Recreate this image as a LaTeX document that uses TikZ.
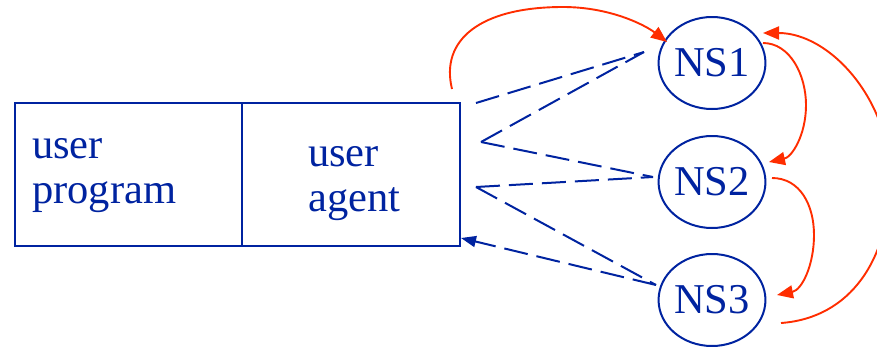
\documentclass[tikz,border=0pt]{standalone}
\usepackage{fontspec}
\setmainfont{Liberation Serif}
\usetikzlibrary{arrows.meta,shapes.geometric}
\definecolor{nsblue}{RGB}{0,35,160}
\definecolor{nsred}{RGB}{255,45,0}
\tikzset{
  boxpart/.style={draw=nsblue,line width=2pt,minimum height=143pt,anchor=north west,inner sep=0pt},
  nsnode/.style={ellipse,draw=nsblue,line width=2pt,minimum width=100pt,minimum height=92pt,inner sep=0pt,text=nsblue,font=\fontsize{42.5}{47}\selectfont},
  lbl/.style={anchor=base west,inner sep=0pt,text=nsblue,font=\fontsize{42.5}{47}\selectfont},
  query/.style={draw=nsblue,line width=2pt,dash pattern=on 24pt off 9pt},
  referral/.style={draw=nsred,line width=1.9pt,-{Triangle[length=16pt,width=13pt]}},
}
\begin{document}
\begin{tikzpicture}[x=1pt,y=-1pt]
\useasboundingbox (0,0) rectangle (877,346);
\clip (0,0) rectangle (877,346);
% box
\node[boxpart,minimum width=227pt] (prog) at (14,102) {};
\node[boxpart,minimum width=218pt] (agent) at (241,102) {};
\node[lbl] (t1) at (32,158) {user};
\node[lbl] (t2) at (32,203) {program};
\node[lbl] (t3) at (308,166) {user};
\node[lbl] (t4) at (308,211) {agent};
% name servers
\node[nsnode] (ns1) at (712,63) {NS1};
\node[nsnode] (ns2) at (712,182) {NS2};
\node[nsnode] (ns3) at (712,300) {NS3};
% dashed query endpoints
\coordinate (q1) at (476,103);
\coordinate (q2) at (481,142);
\coordinate (q3) at (476,187);
\coordinate (e1) at (644,52);
\coordinate (e2) at (653,177);
\coordinate (e3) at (656,285);
\coordinate (b3) at (461,238);
\draw[query] (q1) -- (e1);
\draw[query] (q2) -- (e1);
\draw[query] (q2) -- (e2);
\draw[query] (q3) -- (e2);
\draw[query] (q3) -- (e3);
\draw[query,-{Triangle[length=15pt,width=11pt]}] (e3) -- (b3);
% red referral curves
\coordinate (r0) at (452,89);
\coordinate (r0e) at (667,42);
\coordinate (r1s) at (763,43);
\coordinate (r1e) at (769,162);
\coordinate (r2s) at (772,178);
\coordinate (r2e) at (777,295);
\coordinate (r3s) at (781,323);
\coordinate (r3e) at (763,33);
\draw[referral] (r0) .. controls (440,40) and (480,7) .. (563,7)
  .. controls (610,7) and (645,25) .. (r0e);
\draw[referral] (r1s) .. controls (790,43) and (806,75) .. (806,105)
  .. controls (806,135) and (792,157) .. (r1e);
\draw[referral] (r2s) .. controls (800,178) and (814,205) .. (814,235)
  .. controls (814,265) and (802,290) .. (r2e);
\draw[referral] (r3s) .. controls (850,318) and (890,260) .. (890,178)
  .. controls (890,100) and (830,33) .. (r3e);
\end{tikzpicture}
\end{document}
